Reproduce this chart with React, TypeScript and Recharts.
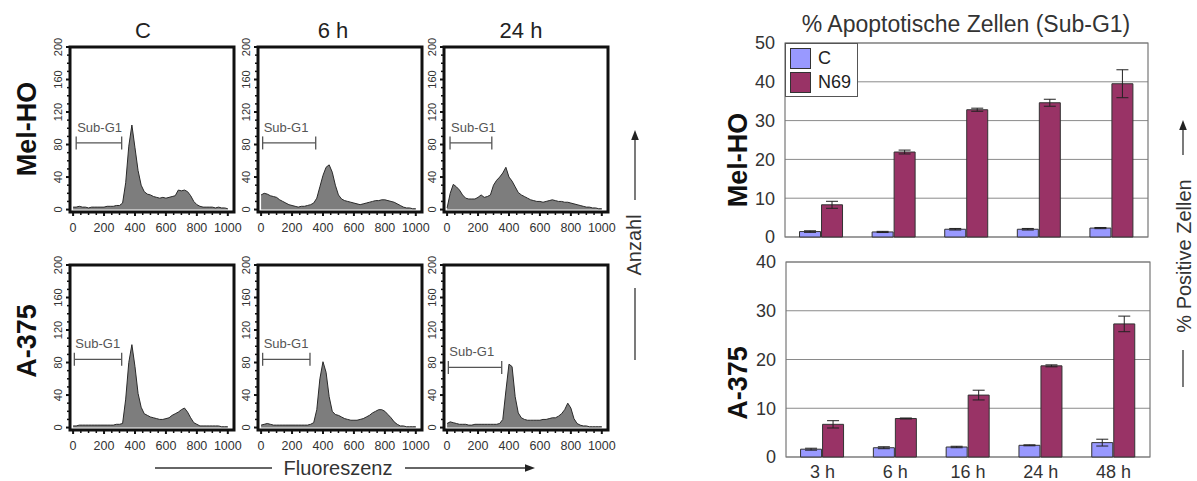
import React from 'react';
import {
  AreaChart, Area, XAxis, YAxis, ReferenceArea, ReferenceLine,
  BarChart, Bar, ErrorBar, CartesianGrid, Legend,
} from 'recharts';

const FONT = '"Liberation Sans", Arial, Helvetica, sans-serif';

// ---------- Histogram data (DNA content, counts per fluorescence bin) ----------
const histBins = [
  0, 20, 40, 60, 80, 100, 120, 140, 160, 180,
  200, 220, 240, 260, 280, 300, 320, 340, 360, 380,
  400, 420, 440, 460, 480, 500, 520, 540, 560, 580,
  600, 620, 640, 660, 680, 700, 720, 740, 760, 780,
  800, 820, 840, 860, 880, 900, 920, 940, 960, 980,
  1000,
];
const melHoCtrl = [
  3, 3, 4, 3, 3, 2, 3, 3, 3, 3,
  3, 4, 4, 4, 5, 5, 8, 33, 78, 104,
  76, 48, 30, 22, 19, 18, 16, 15, 14, 15,
  14, 15, 16, 17, 24, 23, 24, 22, 17, 10,
  6, 4, 3, 3, 3, 3, 2, 3, 2, 2,
  1,
];
const melHo6h = [
  18, 20, 19, 17, 16, 15, 12, 10, 8, 6,
  5, 4, 3, 4, 4, 5, 6, 8, 14, 28,
  42, 52, 55, 46, 30, 18, 13, 11, 10, 9,
  8, 7, 6, 7, 8, 9, 10, 11, 11, 12,
  12, 11, 10, 9, 7, 5, 3, 2, 2, 1,
  1,
];
const melHo24h = [
  2, 20, 31, 28, 24, 18, 14, 13, 13, 13,
  15, 18, 15, 16, 18, 30, 36, 40, 45, 52,
  40, 35, 28, 21, 18, 16, 14, 12, 11, 10,
  10, 9, 10, 11, 12, 11, 10, 10, 9, 9,
  8, 7, 6, 5, 4, 3, 3, 2, 2, 1,
  1,
];
const a375Ctrl = [
  2, 2, 3, 3, 3, 3, 3, 3, 3, 3,
  3, 3, 3, 3, 4, 4, 5, 35, 80, 102,
  75, 42, 25, 17, 15, 13, 12, 11, 10, 10,
  11, 12, 15, 17, 19, 22, 24, 19, 12, 6,
  4, 2, 2, 2, 2, 2, 2, 2, 1, 1,
  1,
];
const a3756h = [
  3, 4, 5, 4, 3, 3, 3, 3, 3, 3,
  3, 3, 3, 3, 3, 3, 4, 6, 22, 60,
  81, 68, 38, 20, 16, 15, 13, 11, 10, 9,
  9, 9, 10, 11, 13, 15, 18, 20, 22, 22,
  20, 16, 12, 7, 4, 2, 2, 1, 1, 1,
  1,
];
const a37524h = [
  5, 7, 6, 5, 4, 4, 4, 3, 3, 4,
  4, 4, 4, 4, 4, 4, 4, 5, 10, 45,
  78, 75, 38, 18, 12, 10, 9, 9, 9, 9,
  9, 10, 10, 11, 12, 12, 14, 17, 22, 30,
  24, 11, 5, 3, 2, 2, 1, 1, 1, 1,
  1,
];
const histXTicks = [0, 50, 100, 150, 200, 250, 300, 350, 400, 450, 500, 550, 600, 650, 700, 750, 800, 850, 900, 950, 1000];
const histXLabels = [0, 200, 400, 600, 800, 1000];
const histYTicks = [0, 10, 20, 30, 40, 50, 60, 70, 80, 90, 100, 110, 120, 130, 140, 150, 160, 170, 180, 190, 200];
const histYLabels = [0, 40, 80, 120, 160, 200];
// Sub-G1 gate per panel (order: Mel-HO C, 6 h, 24 h, A-375 C, 6 h, 24 h)
const subG1Start = [20, 10, 19, 8, 10, 8];
const subG1End = [314, 353, 289, 314, 316, 353];
const subG1Level = [82, 82, 82, 84, 84, 74];
const columnTitles = ['C', '6 h', '24 h'];
const cellLines = ['Mel-HO', 'A-375'];

// ---------- Bar chart data (% apoptotic cells, Sub-G1) ----------
const timePoints = ['3 h', '6 h', '16 h', '24 h', '48 h'];
const seriesNames = ['C', 'N69'];
const melHoC = [1.4, 1.3, 2.0, 2.0, 2.3];
const melHoCErr = [0.2, 0.15, 0.2, 0.2, 0.15];
const melHoN69 = [8.3, 21.9, 32.8, 34.6, 39.5];
const melHoN69Err = [0.9, 0.5, 0.4, 0.9, 3.6];
const a375C = [1.6, 1.9, 2.05, 2.4, 2.95];
const a375CErr = [0.2, 0.2, 0.15, 0.1, 0.7];
const a375N69 = [6.7, 7.9, 12.7, 18.7, 27.3];
const a375N69Err = [0.75, 0.1, 1.0, 0.2, 1.6];
const melHoTicks = [0, 10, 20, 30, 40, 50];
const a375Ticks = [0, 10, 20, 30, 40];

// ---------- styles / layout ----------
const COLORS = { c: '#9999ff', n69: '#993366', histFill: '#7d7d7d', histLine: '#2a2a2a' };
const HIST = { w: 164, h: 165, yAxisW: 30, xAxisH: 30, mt: 14, mr: 8 };
const histXDomain = [-20, 1040];
const histYDomain = [-3, 200];
const histCols = [70, 258, 444];
const histRows = [47, 265];
const BAR_MT = 12;

const renderHistXTick = (p: any) => {
  const { x, y, payload } = p;
  const v = payload.value;
  const major = histXLabels.includes(v);
  return (
    <g>
      <line x1={x} x2={x} y1={y} y2={y + (major ? 4 : 3)} stroke="#111" strokeWidth={major ? 2 : 1.5} />
      {major && (
        <text x={x} y={y + 16} textAnchor="middle" dominantBaseline="central" fontSize={12.5} fill="#333" fontFamily={FONT}>
          {v}
        </text>
      )}
    </g>
  );
};

const renderHistYTick = (p: any) => {
  const { x, y, payload } = p;
  const v = payload.value;
  const major = histYLabels.includes(v);
  const tx = x - 12;
  return (
    <g>
      <line x1={x - (major ? 4 : 3)} x2={x} y1={y} y2={y} stroke="#111" strokeWidth={major ? 2 : 1.5} />
      {major && (
        <text x={tx} y={y} transform={`rotate(-90 ${tx} ${y})`} textAnchor="middle" dominantBaseline="central" fontSize={11} fill="#333" fontFamily={FONT}>
          {v}
        </text>
      )}
    </g>
  );
};

const SubG1Label = (props: any) => {
  const vb = props.viewBox || {};
  const x = vb.x ?? vb.x1 ?? 0;
  const y = vb.y ?? vb.y1 ?? 0;
  return (
    <text x={x + 1} y={y - 11} fontSize={13} fill="#555" fontFamily={FONT}>
      Sub-G1
    </text>
  );
};

function HistPanel({ values, idx, left, top }: { values: number[]; idx: number; left: number; top: number }) {
  const data = histBins.map((x, i) => ({ x, v: values[i] }));
  const s = subG1Start[idx];
  const e = subG1End[idx];
  const lv = subG1Level[idx];
  return (
    <div style={{ position: 'absolute', left: left - HIST.yAxisW, top: top - HIST.mt }}>
      <AreaChart
        width={HIST.w + HIST.yAxisW + HIST.mr}
        height={HIST.h + HIST.mt + HIST.xAxisH}
        data={data}
        margin={{ top: HIST.mt, right: HIST.mr, bottom: 0, left: 0 }}
      >
        <XAxis dataKey="x" type="number" domain={histXDomain} allowDataOverflow ticks={histXTicks} interval={0}
          tickLine={false} axisLine={false} tickSize={0} tickMargin={0} height={HIST.xAxisH} tick={renderHistXTick} />
        <YAxis type="number" domain={histYDomain} allowDataOverflow ticks={histYTicks} interval={0}
          tickLine={false} axisLine={false} tickSize={0} tickMargin={0} width={HIST.yAxisW} tick={renderHistYTick} />
        <Area type="linear" dataKey="v" stroke={COLORS.histLine} strokeWidth={1} fill={COLORS.histFill} fillOpacity={1}
          isAnimationActive={false} dot={false} activeDot={false} />
        <ReferenceArea x1={histXDomain[0]} x2={histXDomain[1]} y1={histYDomain[0]} y2={histYDomain[1]}
          fill="none" fillOpacity={0} stroke="#111" strokeWidth={3} ifOverflow="visible" />
        <ReferenceLine segment={[{ x: s, y: lv }, { x: e, y: lv }]} stroke="#555" strokeWidth={1.3} ifOverflow="visible" label={SubG1Label} />
        <ReferenceLine segment={[{ x: s, y: lv - 8 }, { x: s, y: lv + 8 }]} stroke="#555" strokeWidth={1.3} ifOverflow="visible" />
        <ReferenceLine segment={[{ x: e, y: lv - 8 }, { x: e, y: lv + 8 }]} stroke="#555" strokeWidth={1.3} ifOverflow="visible" />
      </AreaChart>
    </div>
  );
}

const legendContent = () => (
  <div style={{ border: '1.5px solid #555', background: '#fff', padding: '2px 6px 2px 4px', fontFamily: FONT, fontSize: 18, color: '#222' }}>
    {seriesNames.map((n, i) => (
      <div key={n} style={{ display: 'flex', alignItems: 'center', height: 24 }}>
        <span style={{ display: 'inline-block', width: 19, height: 19, background: i === 0 ? COLORS.c : COLORS.n69, border: '1px solid #333', marginRight: 7 }} />
        {n}
      </div>
    ))}
  </div>
);

function ApoptosisBars({ c, cErr, n69, n69Err, ticks, max, showX, showLegend, left, top, width, height, xAxisH, mb }: any) {
  const data = timePoints.map((t, i) => ({ t, c: c[i], cErr: cErr[i], n: n69[i], nErr: n69Err[i] }));
  return (
    <div style={{ position: 'absolute', left, top }}>
      <BarChart width={width} height={height} data={data} margin={{ top: BAR_MT, right: 5, bottom: mb, left: 0 }} barGap={1} barCategoryGap="20%">
        <CartesianGrid horizontal vertical={false} stroke="#8a8a8a" strokeWidth={1} />
        <XAxis dataKey="t" hide={!showX} height={xAxisH} tickLine={false} axisLine={false} tickSize={0} tickMargin={8} interval={0}
          tick={{ fontSize: 18, fill: '#333', fontFamily: FONT }} />
        <YAxis type="number" domain={[0, max]} ticks={ticks} interval={0} width={50} tickLine={false} axisLine={false} tickSize={0} tickMargin={10}
          tick={{ fontSize: 18, fill: '#333', fontFamily: FONT }} />
        <ReferenceArea x1={timePoints[0]} x2={timePoints[timePoints.length - 1]} y1={0} y2={max} fill="none" fillOpacity={0} stroke="#777" strokeWidth={1.2} ifOverflow="visible" />
        <Bar dataKey="c" name={seriesNames[0]} fill={COLORS.c} stroke="#333" strokeWidth={1} isAnimationActive={false}>
          <ErrorBar dataKey="cErr" width={6} stroke="#222" strokeWidth={1} />
        </Bar>
        <Bar dataKey="n" name={seriesNames[1]} fill={COLORS.n69} stroke="#333" strokeWidth={1} isAnimationActive={false}>
          <ErrorBar dataKey="nErr" width={6} stroke="#222" strokeWidth={1} />
        </Bar>
        {showLegend && (
          <Legend layout="vertical" align="center" verticalAlign="middle" content={legendContent}
            wrapperStyle={{ left: 50, top: BAR_MT, width: 'auto', height: 'auto' }} />
        )}
      </BarChart>
    </div>
  );
}

const Arrow = ({ x1, y1, x2, y2 }: any) => {
  // line from (x1,y1) ending with arrowhead at (x2,y2)
  const dx = x2 - x1, dy = y2 - y1;
  const len = Math.sqrt(dx * dx + dy * dy);
  const ux = dx / len, uy = dy / len;
  const bx = x2 - ux * 10, by = y2 - uy * 10;
  const px = -uy * 3.8, py = ux * 3.8;
  return (
    <g>
      <line x1={x1} y1={y1} x2={bx} y2={by} stroke="#333" strokeWidth={1.3} />
      <polygon points={`${x2},${y2} ${bx + px},${by + py} ${bx - px},${by - py}`} fill="#222" />
    </g>
  );
};

export default function App() {
  const histSets = [[melHoCtrl, melHo6h, melHo24h], [a375Ctrl, a3756h, a37524h]];
  return (
    <div style={{ position: 'absolute', left: 0, top: 0, width: 1197, height: 481, overflow: 'hidden', background: '#fff', fontFamily: FONT }}>
      <svg width={1197} height={481} style={{ position: 'absolute', left: 0, top: 0 }} fontFamily={FONT}>
        {columnTitles.map((t, i) => (
          <text key={t} x={histCols[i] + HIST.w / 2 - 9 + i * 2} y={30} textAnchor="middle" dominantBaseline="central" fontSize={22} fill="#222">{t}</text>
        ))}
        <text transform="translate(27,129) rotate(-90)" textAnchor="middle" dominantBaseline="central" fontSize={27} fontWeight="bold" fill="#111">{cellLines[0]}</text>
        <text transform="translate(27,341) rotate(-90)" textAnchor="middle" dominantBaseline="central" fontSize={27} fontWeight="bold" fill="#111">{cellLines[1]}</text>
        <text transform="translate(738,160) rotate(-90)" textAnchor="middle" dominantBaseline="central" fontSize={27} fontWeight="bold" fill="#111">{cellLines[0]}</text>
        <text transform="translate(738,383) rotate(-90)" textAnchor="middle" dominantBaseline="central" fontSize={27} fontWeight="bold" fill="#111">{cellLines[1]}</text>

        <text transform="translate(634,245) rotate(-90)" textAnchor="middle" dominantBaseline="central" fontSize={20} fill="#333">Anzahl</text>
        <line x1={635} y1={288} x2={635} y2={360} stroke="#333" strokeWidth={1.3} />
        <Arrow x1={635} y1={200} x2={635} y2={130} />

        <text x={338} y={468} textAnchor="middle" dominantBaseline="central" fontSize={20} fill="#333">Fluoreszenz</text>
        <line x1={155} y1={468} x2={272} y2={468} stroke="#333" strokeWidth={1.3} />
        <Arrow x1={405} y1={468} x2={535} y2={468} />

        <text x={966} y={24} textAnchor="middle" dominantBaseline="central" fontSize={23} fill="#333">% Apoptotische Zellen (Sub-G1)</text>

        <text transform="translate(1184,256) rotate(-90)" textAnchor="middle" dominantBaseline="central" fontSize={20} fill="#333">% Positive Zellen</text>
        <line x1={1183} y1={350} x2={1183} y2={387} stroke="#333" strokeWidth={1.3} />
        <Arrow x1={1183} y1={155} x2={1183} y2={120} />
      </svg>

      {histSets.map((row, r) =>
        row.map((vals, c) => (
          <HistPanel key={`${r}-${c}`} values={vals} idx={r * 3 + c} left={histCols[c]} top={histRows[r]} />
        ))
      )}

      <ApoptosisBars c={melHoC} cErr={melHoCErr} n69={melHoN69} n69Err={melHoN69Err} ticks={melHoTicks} max={50}
        showX={false} showLegend left={735} top={43 - BAR_MT} width={418} height={194 + BAR_MT + 12} xAxisH={0} mb={12} />
      <ApoptosisBars c={a375C} cErr={a375CErr} n69={a375N69} n69Err={a375N69Err} ticks={a375Ticks} max={40}
        showX showLegend={false} left={736} top={262 - BAR_MT} width={419} height={195 + BAR_MT + 24} xAxisH={24} mb={0} />
    </div>
  );
}
